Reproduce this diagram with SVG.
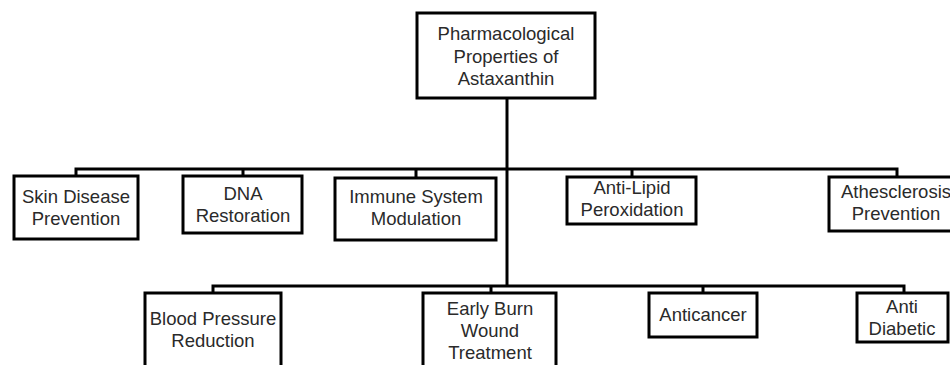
<svg xmlns="http://www.w3.org/2000/svg" width="950" height="365" viewBox="0 0 950 365">
<style>
.box{fill:#fff;stroke:#000;stroke-width:3}
.ln{fill:none;stroke:#000;stroke-width:3}
text{font-family:"Liberation Sans",Arial,sans-serif;font-size:18.5px;fill:#2a2a2a;text-anchor:middle}
</style>
<rect width="950" height="365" fill="#fff"/>
<g id="connectors">
<path class="ln" d="M507,98 V286"/>
<path class="ln" d="M76,176 V169 H897 V176"/>
<path class="ln" d="M243,169 V176 M416,169 V178 M632,169 V177"/>
<path class="ln" d="M213,293 V286 H904 V293"/>
<path class="ln" d="M491,286 V293 M703,286 V293"/>
</g>
<g id="root"><rect class="box" x="417" y="13" width="178" height="85"/>
<text x="506" y="40">Pharmacological</text><text x="506" y="62.5">Properties of</text><text x="506" y="85">Astaxanthin</text></g>
<g id="skin"><rect class="box" x="14" y="176" width="124" height="63"/>
<text x="76" y="203">Skin Disease</text><text x="76" y="225">Prevention</text></g>
<g id="dna"><rect class="box" x="183" y="176" width="119" height="57"/>
<text x="243" y="200">DNA</text><text x="243" y="222">Restoration</text></g>
<g id="immune"><rect class="box" x="335" y="178" width="161" height="62"/>
<text x="416" y="203">Immune System</text><text x="416" y="225">Modulation</text></g>
<g id="lipid"><rect class="box" x="567" y="177" width="129" height="47"/>
<text x="632" y="194">Anti-Lipid</text><text x="632" y="216">Peroxidation</text></g>
<g id="athero"><rect class="box" x="829" y="177" width="130" height="54"/>
<text x="896" y="198">Athesclerosis</text><text x="896" y="220">Prevention</text></g>
<g id="blood"><rect class="box" x="145" y="293" width="136" height="85"/>
<text x="213" y="325">Blood Pressure</text><text x="213" y="347">Reduction</text></g>
<g id="burn"><rect class="box" x="423" y="293" width="133" height="85"/>
<text x="490" y="315">Early Burn</text><text x="490" y="337">Wound</text><text x="490" y="359">Treatment</text></g>
<g id="cancer"><rect class="box" x="649" y="293" width="108" height="44"/>
<text x="703" y="321">Anticancer</text></g>
<g id="diabetic"><rect class="box" x="857" y="293" width="91" height="49"/>
<text x="902" y="313">Anti</text><text x="902" y="335">Diabetic</text></g>
</svg>
